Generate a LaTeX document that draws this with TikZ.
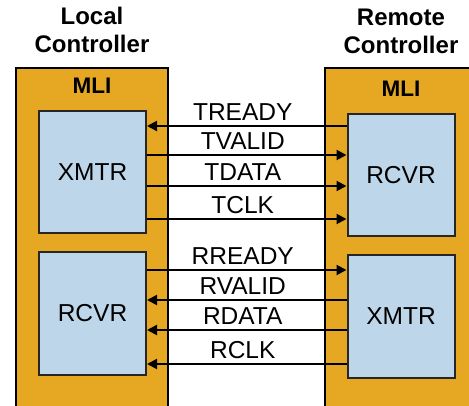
\documentclass[tikz,border=0pt]{standalone}
\usepackage{fontspec}
\setmainfont{Liberation Sans}
\usetikzlibrary{arrows.meta}
\definecolor{mliorange}{RGB}{230,167,35}
\definecolor{boxblue}{RGB}{190,214,233}
\tikzset{
  outerbox/.style={draw=black, line width=2pt, fill=mliorange},
  innerbox/.style={draw=black!85, line width=2pt, fill=boxblue, minimum width=107pt, minimum height=122pt, inner sep=0pt, font=\fontsize{24.5}{28}\selectfont},
  sig/.style={line width=2pt, -{Triangle[length=10pt,width=10pt]}},
  siglabel/.style={midway, anchor=base, yshift=5pt, xshift=-4pt, inner sep=0pt, font=\fontsize{24.5}{28}\selectfont},
  header/.style={align=center, inner sep=0pt, font=\fontsize{24}{28}\selectfont\bfseries},
  mli/.style={anchor=base, inner sep=0pt, font=\fontsize{22.5}{26}\selectfont\bfseries}
}
\begin{document}
\begin{tikzpicture}[x=1pt,y=-1pt]
\useasboundingbox (0,0) rectangle (469,406);
\clip (0,0) rectangle (469,406);
\fill[white] (0,0) rectangle (469,406);
% outer boxes
\draw[outerbox] (16,68) rectangle (168,420);
\draw[outerbox] (325,68) rectangle (485,420);
% headers
\node[header, anchor=north] (lhead) at (92,7) {Local\\Controller};
\node[header, anchor=north] (rhead) at (401,9) {Remote\\Controller};
\node[mli] (lmli) at (92,94) {MLI};
\node[mli] (rmli) at (401,97) {MLI};
% inner boxes
\node[innerbox] (lx) at (92.5,172) {XMTR};
\node[innerbox] (lr) at (92.5,313.5) {RCVR};
\node[innerbox] (rr) at (401,175) {RCVR};
\node[innerbox] (rx) at (401,316.5) {XMTR};
% transmit channel
\draw[sig] (rr.west |- 0,126) -- (lx.east |- 0,126) node[siglabel] {TREADY};
\draw[sig] (lx.east |- 0,155) -- (rr.west |- 0,155) node[siglabel] {TVALID};
\draw[sig] (lx.east |- 0,186) -- (rr.west |- 0,186) node[siglabel] {TDATA};
\draw[sig] (lx.east |- 0,219) -- (rr.west |- 0,219) node[siglabel] {TCLK};
% receive channel
\draw[sig] (lr.east |- 0,270) -- (rx.west |- 0,270) node[siglabel] {RREADY};
\draw[sig] (rx.west |- 0,300) -- (lr.east |- 0,300) node[siglabel] {RVALID};
\draw[sig] (rx.west |- 0,330) -- (lr.east |- 0,330) node[siglabel] {RDATA};
\draw[sig] (rx.west |- 0,364) -- (lr.east |- 0,364) node[siglabel] {RCLK};
\end{tikzpicture}
\end{document}
